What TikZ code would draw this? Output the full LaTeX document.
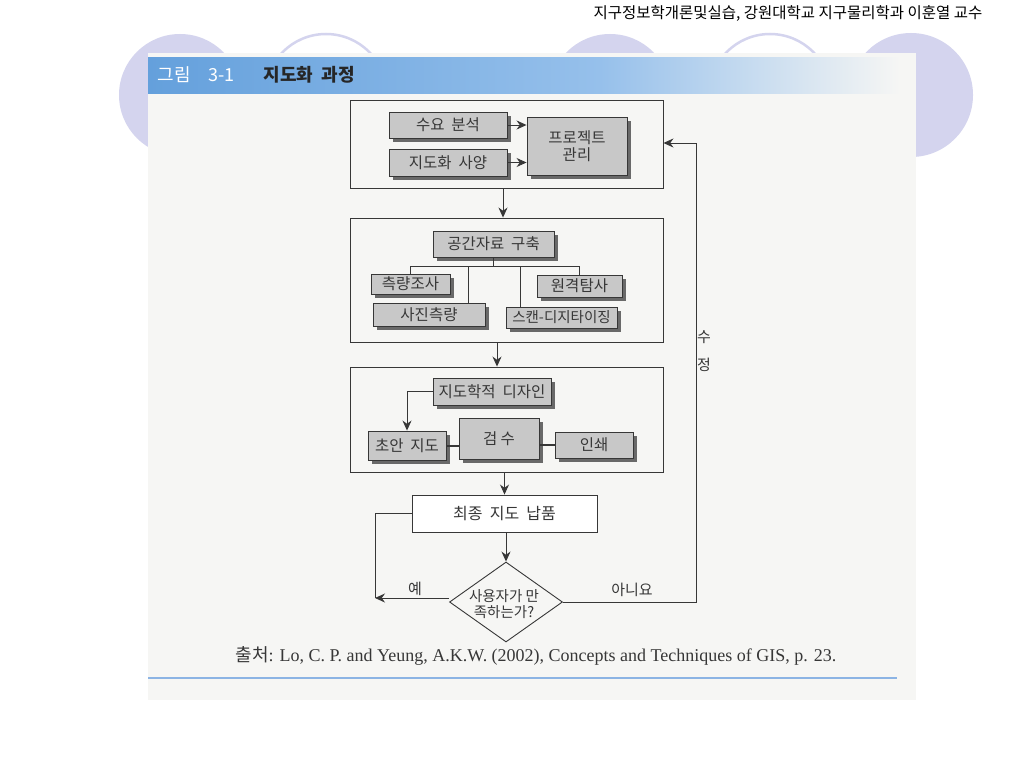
\documentclass[tikz,border=0pt]{standalone}
\usepackage{fontspec}
\setmainfont{Liberation Serif}
\newfontfamily\kr{Noto Sans CJK KR}
\usetikzlibrary{arrows.meta,shapes.geometric,shadows}

\definecolor{lav}{RGB}{212,212,238}
\definecolor{page}{RGB}{246,246,244}
\definecolor{hdblue}{RGB}{100,160,220}
\definecolor{hdlight}{RGB}{150,192,235}
\definecolor{boxgray}{RGB}{200,200,200}
\definecolor{shadowgray}{RGB}{105,105,105}
\definecolor{ink}{RGB}{55,55,55}
\definecolor{rule}{RGB}{140,180,228}

\tikzset{
  graybox/.style={draw=ink, line width=0.9pt, fill=boxgray, inner sep=0pt,
    text=ink, font=\kr\fontsize{15.5}{17}\selectfont,
    drop shadow={shadow xshift=4pt, shadow yshift=-4pt, fill=shadowgray, opacity=1}},
  framebox/.style={draw=ink, line width=0.9pt, inner sep=0pt},
  arr/.style={draw=ink, line width=0.9pt, -{Stealth[length=10pt,width=9pt]}},
  conn/.style={draw=ink, line width=0.8pt},
  lbl/.style={text=ink, font=\kr\fontsize{15}{17}\selectfont},
}

\begin{document}
\begin{tikzpicture}[x=1pt,y=-1pt]
\useasboundingbox (0,0) rectangle (1024,768);
\fill[white] (0,0) rectangle (1024,768);

% slide decoration
\fill[lav] (180,95) circle (61);
\draw[lav, line width=2.5pt] (326,95) circle (61);
\fill[lav] (610,95) circle (61);
\draw[lav, line width=2.5pt] (770,95) circle (61);
\fill[lav] (911,95) circle (62);

% scanned page
\fill[page] (148,53) rectangle (916,700);
\shade[left color=hdblue, right color=hdlight] (148,58) rectangle (600,93);
\shade[left color=hdlight, right color=page] (600,58) rectangle (900,93);
\draw[rule, line width=1.5pt] (148,678) -- (897,678);

\node[anchor=east, font=\kr\fontsize{15.5}{17}\selectfont] (credit) at (986,13)
  {지구정보학개론및실습, 강원대학교 지구물리학과 이훈열 교수};
\node[anchor=west, text=white, font=\kr\fontsize{18}{20}\selectfont] (fignum) at (154,75) {그림\quad 3-1};
\node[anchor=west, text=black!85, font=\kr\bfseries\fontsize{18}{20}\selectfont] (figtitle) at (260,75) {지도화\ \ 과정};

% stage 1
\node[framebox, minimum width=313pt, minimum height=88pt] (stage1) at (506.5,144) {};
\node[graybox, minimum width=118pt, minimum height=26pt] (demand) at (448,125) {수요\ \ 분석};
\node[graybox, minimum width=118pt, minimum height=27pt] (spec) at (448,162.5) {지도화\ \ 사양};
\node[graybox, minimum width=100pt, minimum height=58pt, align=center] (project) at (577,146) {프로젝트\\관리};
\draw[arr] (demand) -- (demand -| project.west);
\draw[arr] (spec) -- (spec -| project.west);

% stage 2
\node[framebox, minimum width=313pt, minimum height=124pt] (stage2) at (506.5,280) {};
\node[graybox, minimum width=121pt, minimum height=26pt] (build) at (493.5,244) {공간자료\ \ 구축};
\node[graybox, minimum width=79pt, minimum height=20pt] (survey) at (410.5,284) {측량조사};
\node[graybox, minimum width=112pt, minimum height=23pt] (photo) at (429,314.5) {사진측량};
\node[graybox, minimum width=85pt, minimum height=22pt] (remote) at (579.5,286) {원격탐사};
\node[graybox, minimum width=111pt, minimum height=21pt, font=\kr\fontsize{14.5}{16}\selectfont] (scan) at (561.5,317.5) {스캔-디지타이징};
\coordinate (bus) at (0,266);
\draw[conn] (build.south) -- (build.south |- bus);
\draw[conn] (survey.north) -- (survey.north |- bus) -- (remote.north |- bus) -- (remote.north);
\draw[conn] ([xshift=39pt]photo.north) -- ([xshift=39pt]photo.north |- bus);
\draw[conn] ([xshift=-41.5pt]scan.north) -- ([xshift=-41.5pt]scan.north |- bus);

% stage 3
\node[framebox, minimum width=313pt, minimum height=105pt] (stage3) at (506.5,419.5) {};
\node[graybox, minimum width=118pt, minimum height=27pt] (design) at (492,391.5) {지도학적\ \ 디자인};
\node[graybox, minimum width=78pt, minimum height=29pt] (draft) at (407,445.5) {초안\ \ 지도};
\node[graybox, minimum width=80pt, minimum height=41pt] (check) at (499,438.5) {검\ 수};
\node[graybox, minimum width=78pt, minimum height=26pt] (print) at (594,445) {인쇄};
\draw[arr] (design.west) -| (draft.north);
\draw[ink, line width=2pt] (draft.east) -- (draft.east -| check.west);
\draw[ink, line width=2pt] (print.west -| check.east) -- (print.west);

\draw[arr] ([xshift=-3.5pt]stage1.south) -- ([xshift=-3.5pt]stage2.north);
\draw[arr] ([xshift=-9.5pt]stage2.south) -- ([xshift=-9.5pt]stage3.north);

% delivery and check
\node[framebox, fill=white, minimum width=185pt, minimum height=37pt, lbl, font=\kr\fontsize{16}{18}\selectfont] (deliver) at (504.5,513.5) {최종\ \ 지도\ \ 납품};
\node[diamond, draw=ink, line width=0.9pt, minimum width=113pt, minimum height=80pt, inner sep=0pt] (happy) at (506,602) {};
\node[lbl, align=center, font=\kr\fontsize{14.5}{16}\selectfont] (happytext) at (504,604) {사용자가 만\\족하는가?};
\draw[arr] (stage3.south -| deliver) -- (deliver.north);
\draw[arr] (deliver.south -| happy) -- (happy.north);

\coordinate (yes) at (375,598);
\coordinate (fix) at (696,143);
\draw[conn] (deliver.west) -| (yes);
\draw[arr] (happy.west |- yes) -- (yes);
\draw[arr] (happy.east) -- (happy.east -| fix) -- (fix) -- (fix -| stage1.east);

\node[lbl] (yeslbl) at (415,589) {예};
\node[lbl] (nolbl) at (632,590) {아니요};
\node[lbl] (fixa) at (704,337) {수};
\node[lbl] (fixb) at (704,365) {정};

\node[text=ink, font=\fontsize{18}{20}\selectfont] (source) at (536,656)
  {{\kr 출처}: Lo, C. P. and Yeung, A.K.W. (2002), Concepts and Techniques of GIS, p. 23.};
\end{tikzpicture}
\end{document}
